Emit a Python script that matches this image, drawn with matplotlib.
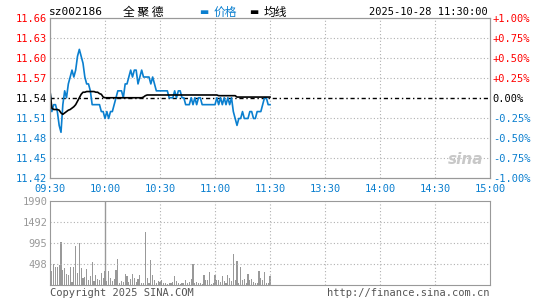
import matplotlib
matplotlib.use("Agg")
import matplotlib.pyplot as plt
import numpy as np

plt.rcParams['font.family'] = ['DejaVu Sans Mono', 'Noto Sans CJK SC']

code = "sz002186"
name = "全 聚 德"
stamp = "2025-10-28 11:30:00"
prev_close = 11.54

time_labels = ["09:30", "10:00", "10:30", "11:00", "11:30", "13:30", "14:00", "14:30", "15:00"]
price_labels = ["11.42", "11.45", "11.48", "11.51", "11.54", "11.57", "11.60", "11.63", "11.66"]
pct_labels = ["-1.00%", "-0.75%", "-0.50%", "-0.25%", "0.00%", "+0.25%", "+0.50%", "+0.75%", "+1.00%"]
vol_labels = ["498", "995", "1492", "1990"]
vol_max = 1990

# one value per minute, 09:30 .. 11:30
price = [11.55, 11.52, 11.53, 11.53, 11.52, 11.50, 11.49, 11.53, 11.55, 11.54,
         11.56, 11.57, 11.58, 11.57, 11.58, 11.60, 11.61, 11.60, 11.59, 11.57,
         11.56, 11.56, 11.55, 11.53, 11.53, 11.53, 11.53, 11.53, 11.52, 11.52,
         11.51, 11.52, 11.51, 11.52, 11.52, 11.53, 11.54, 11.55, 11.55, 11.55,
         11.54, 11.56, 11.56, 11.57, 11.58, 11.57, 11.58, 11.58, 11.56, 11.57,
         11.58, 11.57, 11.57, 11.57, 11.57, 11.56, 11.57, 11.56, 11.55, 11.55,
         11.55, 11.55, 11.55, 11.55, 11.55, 11.54, 11.54, 11.54, 11.55, 11.54,
         11.55, 11.55, 11.54, 11.54, 11.53, 11.53, 11.53, 11.54, 11.53, 11.54,
         11.53, 11.54, 11.54, 11.53, 11.53, 11.53, 11.53, 11.53, 11.53, 11.53,
         11.53, 11.54, 11.53, 11.54, 11.53, 11.54, 11.53, 11.54, 11.53, 11.54,
         11.52, 11.51, 11.50, 11.51, 11.51, 11.52, 11.51, 11.51, 11.51, 11.52,
         11.52, 11.51, 11.51, 11.52, 11.52, 11.52, 11.53, 11.54, 11.54, 11.53,
         11.53]

avg = [11.550, 11.525, 11.523, 11.523, 11.523, 11.522, 11.518, 11.516, 11.518, 11.520,
       11.522, 11.523, 11.525, 11.527, 11.530, 11.535, 11.540, 11.545, 11.548, 11.548,
       11.549, 11.549, 11.549, 11.549, 11.549, 11.548, 11.548, 11.546, 11.545, 11.541,
       11.540, 11.540, 11.540, 11.540, 11.540, 11.540, 11.540, 11.540, 11.540, 11.540,
       11.540, 11.540, 11.540, 11.540, 11.540, 11.540, 11.540, 11.540, 11.540, 11.540,
       11.540, 11.541, 11.543, 11.544, 11.544, 11.544, 11.544, 11.544, 11.544, 11.544,
       11.544, 11.544, 11.544, 11.544, 11.544, 11.544, 11.544, 11.544, 11.544, 11.544,
       11.544, 11.544, 11.544, 11.544, 11.544, 11.544, 11.544, 11.544, 11.544, 11.544,
       11.544, 11.544, 11.544, 11.544, 11.544, 11.544, 11.544, 11.544, 11.544, 11.544,
       11.544, 11.544, 11.543, 11.543, 11.543, 11.543, 11.543, 11.543, 11.543, 11.543,
       11.543, 11.543, 11.541, 11.541, 11.541, 11.541, 11.541, 11.541, 11.541, 11.541,
       11.541, 11.541, 11.541, 11.541, 11.541, 11.541, 11.541, 11.541, 11.541, 11.541,
       11.541]

volume = [40, 332, 498, 427, 427, 474, 1011, 356, 403, 261,
          237, 427, 60, 427, 924, 284, 995, 403, 166, 190,
          379, 119, 213, 545, 95, 237, 142, 119, 280, 159,
          332, 95, 332, 174, 95, 134, 355, 616, 55, 95,
          79, 261, 213, 79, 134, 261, 158, 79, 134, 237,
          55, 40, 1263, 166, 47, 593, 237, 119, 47, 95,
          71, 119, 47, 47, 24, 47, 47, 71, 213, 95,
          47, 24, 47, 47, 119, 47, 71, 142, 498, 47,
          71, 47, 47, 24, 237, 119, 119, 308, 30, 47,
          237, 119, 119, 71, 213, 95, 47, 237, 166, 95,
          735, 119, 569, 47, 427, 119, 142, 47, 261, 119,
          142, 71, 47, 47, 332, 166, 119, 308, 47, 47,
          213]

blue = "#0a7fcf"
red = "#ff0000"
grey = "#999999"

minutes = np.arange(len(price))
lo = prev_close * 0.99
hi = prev_close * 1.01
yt = np.linspace(lo, hi, 9)
xt = np.arange(0, 241, 30)


def level_colour(y):
    if abs(y - prev_close) < 1e-6:
        return "black"
    return red if y > prev_close else blue


fig = plt.figure(figsize=(5.45, 3.0), dpi=100)
ax = fig.add_axes([50/545, 1 - 177.5/300, 440/545, 159.5/300])
axv = fig.add_axes([50/545, 15/300, 440/545, 84/300])

# price panel
ax.set_xlim(0, 240)
ax.set_ylim(lo, hi)
for y in yt[1:-1]:
    if abs(y - prev_close) > 1e-6:
        ax.axhline(y, color="#b0b0b0", lw=0.8, ls=(0, (1, 2)))
for x in xt[1:-1]:
    ax.axvline(x, color="#b0b0b0", lw=0.8, ls=(0, (1, 2)))
ax.axhline(prev_close, color="black", lw=1, ls=(0, (3, 2, 1, 2)))
ax.plot(minutes, price, color=blue, lw=1.2)
ax.plot(minutes, avg, color="black", lw=1.2)

ax.set_yticks(yt)
ax.set_yticklabels(price_labels)
for lab, y in zip(ax.get_yticklabels(), yt):
    lab.set_color(level_colour(y))
ax2 = ax.twinx()
ax2.set_ylim(lo, hi)
ax2.set_yticks(yt)
ax2.set_yticklabels(pct_labels)
for lab, y in zip(ax2.get_yticklabels(), yt):
    lab.set_color(level_colour(y))
ax.set_xticks(xt)
ax.set_xticklabels(time_labels, color=blue)
for a in (ax, ax2):
    a.tick_params(axis="y", length=0, labelsize=7.5, pad=2)
    for s in a.spines.values():
        s.set_color(grey)
ax.tick_params(axis="x", length=0, labelsize=7.5, pad=5)

ax.text(0.985, 0.11, "sina", transform=ax.transAxes, ha="right", va="center",
        fontsize=11, fontweight="bold", style="italic", color="#c8c8c8",
        family="DejaVu Sans")

# volume panel
axv.set_xlim(0, 240)
axv.set_ylim(0, vol_max)
vt = [vol_max * k / 4 for k in range(1, 5)]
for y in vt[:-1]:
    axv.axhline(y, color="#b0b0b0", lw=0.8, ls=(0, (1, 2)))
for x in xt[1:-1]:
    if x == 30:
        axv.axvline(x, color=grey, lw=1)
    else:
        axv.axvline(x, color="#b0b0b0", lw=0.8, ls=(0, (1, 2)))
axv.bar(minutes, volume, width=0.6, color=grey)
axv.set_yticks(vt)
axv.set_yticklabels(vol_labels, color=grey)
axv.set_xticks([])
axv.tick_params(length=0, labelsize=7.5, pad=2)
for s in axv.spines.values():
    s.set_color(grey)

# header and footer
hy = 1 - 12/300
cjk = ["Noto Sans CJK SC", "DejaVu Sans"]
fig.text(49/545, hy, code, fontsize=8, va="center", ha="left")
fig.text(143/545, hy, name, fontsize=8.5, va="center", ha="center", family=cjk)
fig.text(204/545, hy, "▬", fontsize=7, color=blue, va="center", ha="center",
         family="DejaVu Sans")
fig.text(214/545, hy, "价格", fontsize=8.5, color=blue, va="center", ha="left", family=cjk)
fig.text(254/545, hy, "▬", fontsize=7, color="black", va="center", ha="center",
         family="DejaVu Sans")
fig.text(264/545, hy, "均线", fontsize=8.5, color="black", va="center", ha="left", family=cjk)
fig.text(488/545, hy, stamp, fontsize=7.5, va="center", ha="right")
fig.text(50/545, 1 - 293/300, "Copyright 2025 SINA.COM", fontsize=7.5, color="#555555",
         va="center", ha="left")
fig.text(490/545, 1 - 293/300, "http://finance.sina.com.cn", fontsize=7.5, color="#555555",
         va="center", ha="right")

fig.savefig("out.png", dpi=100, facecolor="white")
